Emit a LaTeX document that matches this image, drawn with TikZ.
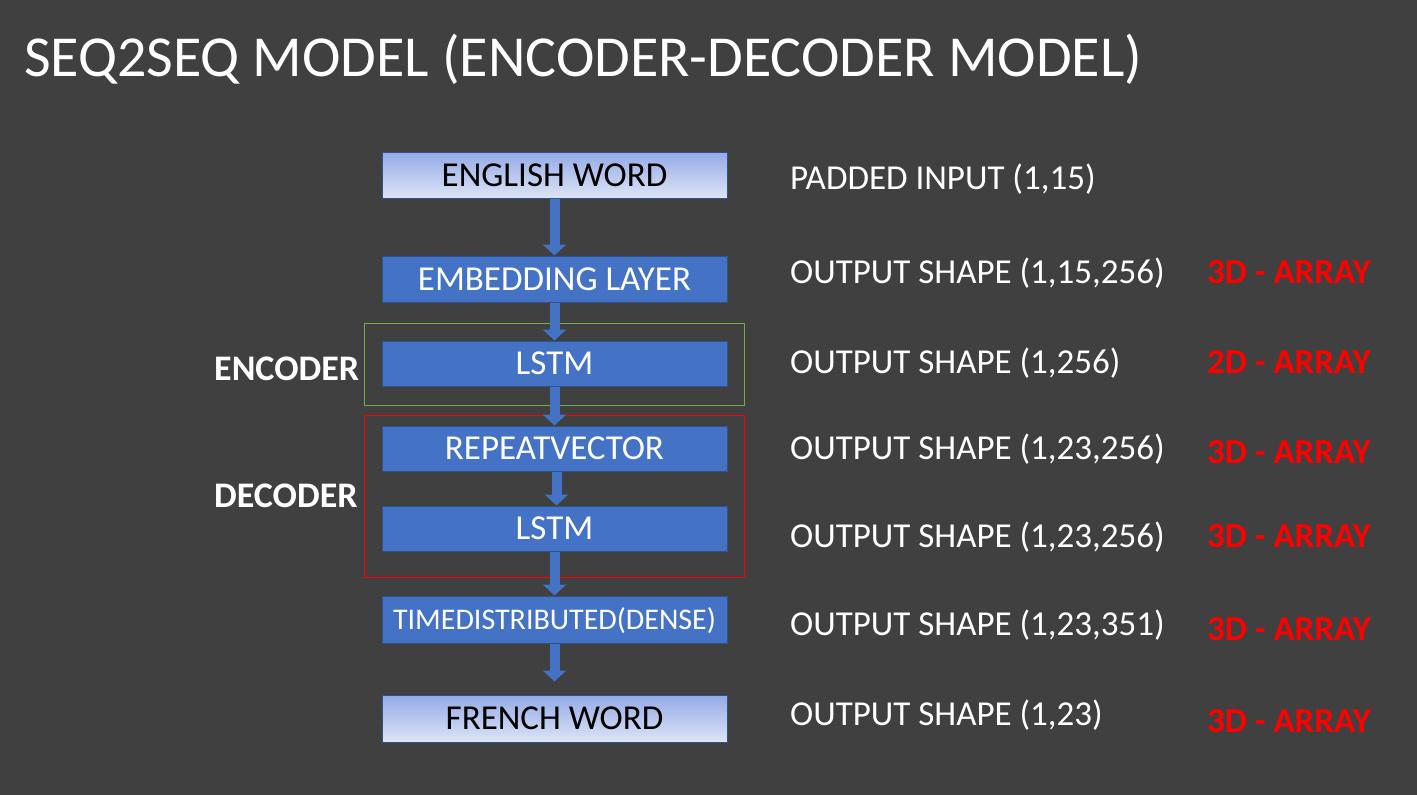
\documentclass[tikz,border=0pt]{standalone}
\usepackage{fontspec}
\setmainfont{Carlito}
\usepackage{tikz}
\usetikzlibrary{arrows.meta}

\definecolor{slide}{HTML}{404040}
\definecolor{boxblue}{HTML}{4472C4}
\definecolor{boxedge}{HTML}{2F528F}
\definecolor{gradtop}{HTML}{93AAE6}
\definecolor{gradbot}{HTML}{DDE4F6}
\definecolor{encgreen}{HTML}{70AD47}
\definecolor{arrayred}{HTML}{FF0000}

\tikzset{
  layer/.style={draw=boxedge, line width=1pt, fill=boxblue, text=white, inner sep=0pt,
    minimum width=345pt, minimum height=46pt, text height=22pt, text depth=0pt,
    font=\fontsize{35}{40}\selectfont},
  wordbox/.style={layer, top color=gradtop, bottom color=gradbot, text=black},
  flow/.style={draw=boxblue, line width=10pt, -{Triangle[width=23pt,length=11pt]}},
  shapetext/.style={anchor=base west, inner sep=0pt, text=white, font=\fontsize{35}{40}\selectfont},
  arraytext/.style={anchor=base west, inner sep=0pt, text=arrayred, font=\fontsize{35}{40}\selectfont\bfseries},
  parttext/.style={anchor=base west, inner sep=0pt, text=white, font=\fontsize{36}{40}\selectfont\bfseries}
}

\begin{document}
\begin{tikzpicture}[x=1pt,y=-1pt]
\fill[slide] (0,0) rectangle (1417,795);
\node[anchor=base west, inner sep=0pt, text=white, font=\fontsize{58}{70}\selectfont] (title) at (24,76) {SEQ2SEQ MODEL (ENCODER-DECODER MODEL)};

% encoder and decoder frames
\draw[encgreen, line width=1pt] (364,323) rectangle (744,405);
\draw[arrayred, line width=1pt] (364,415) rectangle (744,577);
\node[parttext] (enc) at (214,380) {ENCODER};
\node[parttext] (dec) at (214,507) {DECODER};

% layers
\node[wordbox] (eng) at (554.5,175) {ENGLISH WORD};
\node[layer] (emb) at (554.5,279) {EMBEDDING LAYER};
\node[layer, minimum height=45pt] (lstmA) at (554.5,363.5) {LSTM};
\node[layer, minimum height=45pt] (rep) at (554.5,448.5) {REPEATVECTOR};
\node[layer, minimum height=45pt] (lstmB) at (554.5,528.5) {LSTM};
\node[layer, minimum height=47pt, font=\fontsize{30}{36}\selectfont, text height=19pt] (tdd) at (554.5,619.5) {TIMEDISTRIBUTED(DENSE)};
\node[wordbox, minimum height=47pt] (fre) at (554.5,718.5) {FRENCH WORD};

\draw[flow] (eng) -- (emb);
\draw[flow] (emb) -- (lstmA);
\draw[flow] (lstmA) -- (rep);
\draw[flow] ([xshift=2pt]rep.south) -- ([xshift=2pt]lstmB.north);
\draw[flow] (lstmB) -- (tdd);
\draw[flow, shorten >=13pt] (tdd) -- (fre);

% shapes
\node[shapetext] (s0) at (790,189) {PADDED INPUT (1,15)};
\node[shapetext] (s1) at (790,283) {OUTPUT SHAPE (1,15,256)};
\node[shapetext] (s2) at (790,373) {OUTPUT SHAPE (1,256)};
\node[shapetext] (s3) at (790,459) {OUTPUT SHAPE (1,23,256)};
\node[shapetext] (s4) at (790,547) {OUTPUT SHAPE (1,23,256)};
\node[shapetext] (s5) at (790,635) {OUTPUT SHAPE (1,23,351)};
\node[shapetext] (s6) at (790,725) {OUTPUT SHAPE (1,23)};

\node[arraytext] (a1) at (1207,283) {3D - ARRAY};
\node[arraytext] (a2) at (1207,373) {2D - ARRAY};
\node[arraytext] (a3) at (1207,463) {3D - ARRAY};
\node[arraytext] (a4) at (1207,547) {3D - ARRAY};
\node[arraytext] (a5) at (1207,640) {3D - ARRAY};
\node[arraytext] (a6) at (1207,732) {3D - ARRAY};
\end{tikzpicture}
\end{document}
